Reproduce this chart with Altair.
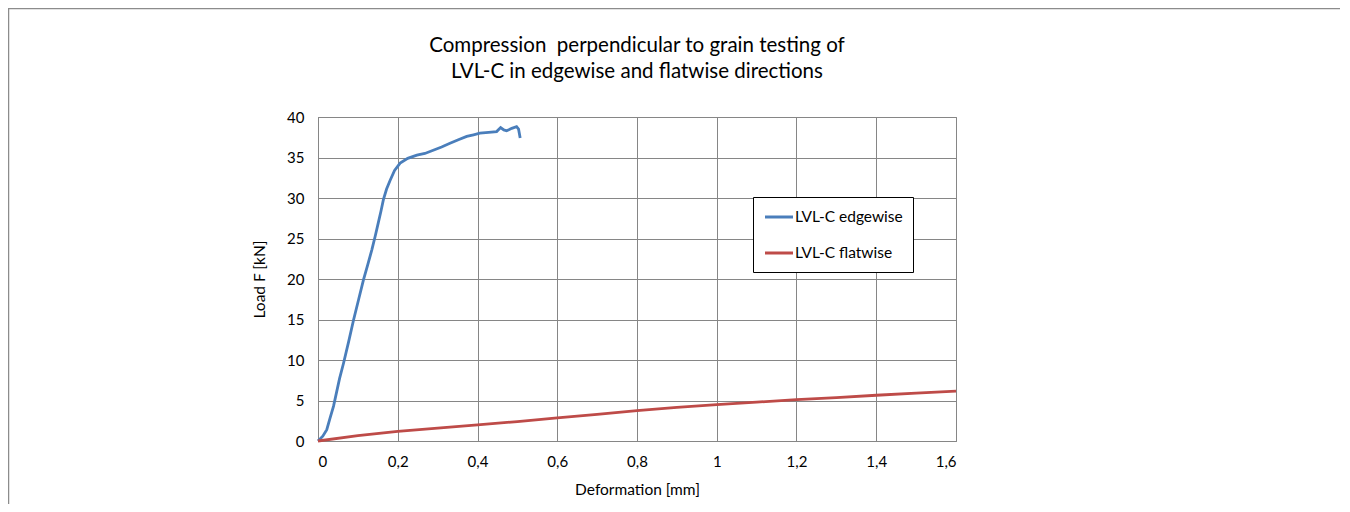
import altair as alt
import pandas as pd

# Blue series: LVL-C edgewise
edge_x = [0.0, 0.012, 0.022, 0.030, 0.039, 0.054, 0.064, 0.077, 0.089, 0.102, 0.114, 0.125,
          0.135, 0.144, 0.151, 0.158, 0.164, 0.172, 0.181, 0.192, 0.206, 0.225, 0.248, 0.268,
          0.289, 0.310, 0.331, 0.352, 0.373, 0.390, 0.406, 0.428, 0.448, 0.458, 0.466, 0.473,
          0.486, 0.498, 0.503, 0.507]
edge_y = [0.0, 0.6, 1.4, 2.8, 4.3, 7.7, 9.6, 12.3, 14.9, 17.5, 19.9, 21.8,
          23.6, 25.4, 26.9, 28.4, 29.8, 31.1, 32.2, 33.4, 34.3, 34.9, 35.3, 35.5,
          35.9, 36.3, 36.75, 37.2, 37.6, 37.8, 38.0, 38.1, 38.2, 38.7, 38.4, 38.3,
          38.6, 38.8, 38.5, 37.4]

# Red series: LVL-C flatwise
flat_x = [0.0, 0.1, 0.2, 0.3, 0.4, 0.5, 0.6, 0.7, 0.8, 0.9, 1.0, 1.1, 1.2, 1.3, 1.4, 1.5, 1.6]
flat_y = [0.0, 0.65, 1.2, 1.6, 2.0, 2.4, 2.85, 3.3, 3.75, 4.15, 4.5, 4.8, 5.1, 5.35, 5.65, 5.9, 6.15]

series_names = ["LVL-C edgewise", "LVL-C flatwise"]
series_colors = ["#4a7ebb", "#be4b48"]

title_lines = ["Compression\u00a0 perpendicular to grain testing of",
               "LVL-C in edgewise and flatwise directions"]

x_ticks = [0, 0.2, 0.4, 0.6, 0.8, 1.0, 1.2, 1.4, 1.6]
y_ticks = [0, 5, 10, 15, 20, 25, 30, 35, 40]

FONT = "Lato"
W, H = 638, 324

df = pd.concat([
    pd.DataFrame({"x": edge_x, "y": edge_y, "series": series_names[0], "order": range(len(edge_x))}),
    pd.DataFrame({"x": flat_x, "y": flat_y, "series": series_names[1], "order": range(len(flat_x))}),
])

color_scale = alt.Scale(domain=series_names, range=series_colors)

lines = alt.Chart(df).mark_line(strokeWidth=2.8, clip=False).encode(
    x=alt.X("x:Q",
            scale=alt.Scale(domain=[0, 1.6], nice=False),
            axis=alt.Axis(values=x_ticks, title="Deformation [mm]",
                          labelExpr="replace(format(datum.value, '.1~f'), '.', ',')",
                          labelPadding=13, titlePadding=13)),
    y=alt.Y("y:Q",
            scale=alt.Scale(domain=[0, 40], nice=False),
            axis=alt.Axis(values=y_ticks, title="Load F [kN]",
                          labelPadding=14, titlePadding=19)),
    color=alt.Color("series:N", scale=color_scale, legend=None),
    order="order:Q",
)

one = pd.DataFrame({"a": [0]})

# outer chart frame
frame = alt.Chart(one).mark_rect(
    fill="transparent", stroke="#8c8c8c", strokeWidth=1.5, clip=False
).encode(
    x=alt.value(-309.5), x2=alt.value(1300),
    y=alt.value(-108.5), y2=alt.value(600),
)

# title (two lines)
title_marks = []
for line, ypos in zip(title_lines, [-71, -45]):
    title_marks.append(
        alt.Chart(pd.DataFrame({"t": [line]})).mark_text(
            font=FONT, fontSize=20.5, color="black", align="center", baseline="middle", clip=False
        ).encode(x=alt.value(W / 2), y=alt.value(ypos), text="t:N")
    )

# legend box
leg_box = alt.Chart(one).mark_rect(
    fill="white", stroke="black", strokeWidth=1, clip=False
).encode(x=alt.value(435.5), x2=alt.value(595.5), y=alt.value(80.5), y2=alt.value(155.5))

leg_marks = []
for name, col, ypos in zip(series_names, series_colors, [100, 136]):
    d = pd.DataFrame({"series": [name]})
    leg_marks.append(
        alt.Chart(d).mark_rule(strokeWidth=3, color=col, clip=False).encode(
            x=alt.value(447), x2=alt.value(475), y=alt.value(ypos))
    )
    leg_marks.append(
        alt.Chart(d).mark_text(
            font=FONT, fontSize=15.5, color="black", align="left", baseline="middle", clip=False
        ).encode(x=alt.value(477), y=alt.value(ypos), text="series:N")
    )

chart = alt.layer(frame, lines, *title_marks, leg_box, *leg_marks).properties(
    width=W, height=H,
    autosize=alt.AutoSizeParams(type="none"),
    padding={"left": 310, "top": 109, "right": 384, "bottom": 63},
).configure_axis(
    gridColor="#868686", gridWidth=1, domainColor="#868686", domainWidth=1,
    ticks=False, labelFont=FONT, titleFont=FONT, labelFontSize=15, titleFontSize=15.5,
    labelColor="black", titleColor="black", titleFontWeight="normal",
).configure_view(stroke="#868686", strokeWidth=1)

chart.save("out.html", embed_options={"renderer": "svg", "actions": False})
